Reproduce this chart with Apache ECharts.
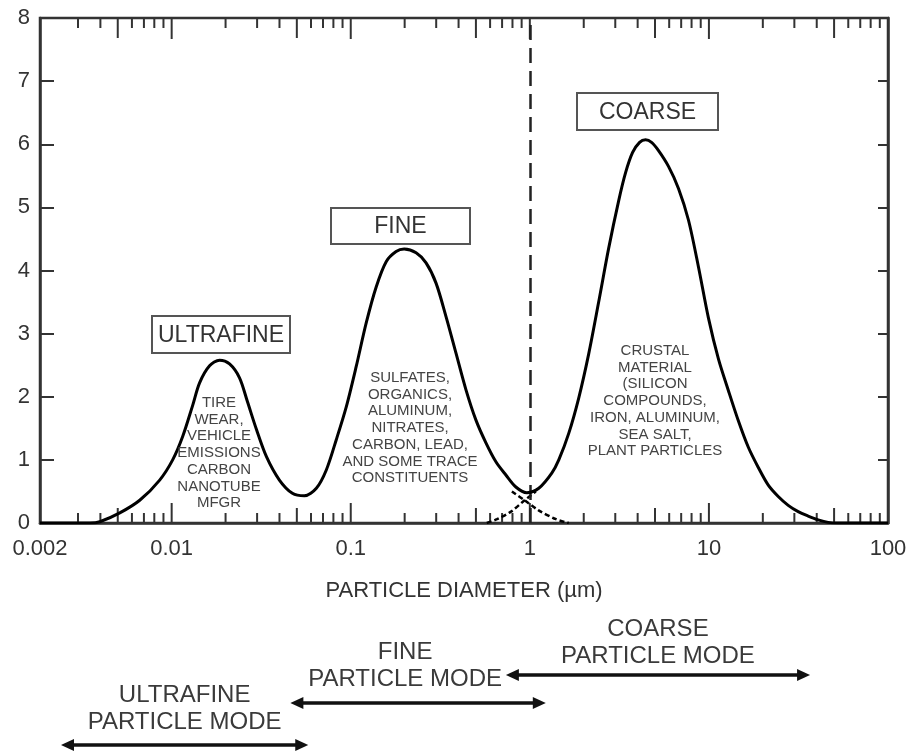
<!DOCTYPE html>
<html><head><meta charset="utf-8">
<script src="https://cdn.jsdelivr.net/npm/echarts@6/dist/echarts.min.js"></script>
<style>html,body{margin:0;padding:0;background:#fff}#c{width:913px;height:754px}</style>
</head><body><div id="c"></div>
<script>
// ---------------- data ----------------
const DIAMETER_UM = [0.00184, 0.00349, 0.003972, 0.005133, 0.006633, 0.008572, 0.01013, 0.01152, 0.01309, 0.01432, 0.01628, 0.01851, 0.02105, 0.02393, 0.02651, 0.02976, 0.03383, 0.03996, 0.04722, 0.05507, 0.06425, 0.07304, 0.08303, 0.09440, 0.1073, 0.1220, 0.1387, 0.1577, 0.1792, 0.1987, 0.2317, 0.2634, 0.2994, 0.3404, 0.3870, 0.4400, 0.5002, 0.5687, 0.6465, 0.7350, 0.8356, 0.9623, 1.122, 1.326, 1.451, 1.649, 1.875, 2.132, 2.423, 2.755, 3.131, 3.425, 3.749, 4.101, 4.429, 4.782, 5.232, 5.947, 6.761, 7.686, 8.738, 9.936, 11.30, 12.84, 14.60, 16.60, 18.87, 21.45, 24.38, 27.72, 31.51, 35.82, 40.74, 46.30, 52.65, 100];
const CONCENTRATION = [0, 0, 0.02, 0.16, 0.36, 0.68, 1.00, 1.37, 1.86, 2.22, 2.49, 2.58, 2.52, 2.30, 1.92, 1.48, 1.05, 0.68, 0.47, 0.43, 0.55, 0.84, 1.32, 1.84, 2.48, 3.17, 3.74, 4.14, 4.30, 4.34, 4.28, 4.12, 3.80, 3.27, 2.69, 2.11, 1.63, 1.27, 0.97, 0.76, 0.57, 0.48, 0.55, 0.79, 1.00, 1.42, 1.98, 2.68, 3.50, 4.35, 5.10, 5.55, 5.87, 6.03, 6.07, 6.03, 5.90, 5.65, 5.30, 4.80, 4.06, 3.25, 2.60, 2.10, 1.62, 1.20, 0.88, 0.60, 0.42, 0.28, 0.18, 0.11, 0.05, 0.01, 0, 0];
const FINE_TAIL_X = [0.794, 0.935, 1.12, 1.40, 1.65];
const FINE_TAIL_Y = [0.50, 0.36, 0.20, 0.06, 0.0];
const COARSE_TAIL_X = [0.575, 0.655, 0.784, 0.935, 1.08];
const COARSE_TAIL_Y = [0.0, 0.06, 0.18, 0.36, 0.50];
const X_LABEL_VALUES = [0.00184, 0.01, 0.1, 1, 10, 100];
const X_LABEL_TEXTS = ['0.002', '0.01', '0.1', '1', '10', '100'];
const X_MIN = 0.00184, X_MAX = 100, Y_MIN = 0, Y_MAX = 8;
const FINE_COARSE_CUT = 1;
const PEAK_NAMES = ['ULTRAFINE', 'FINE', 'COARSE'];
const PEAK_SOURCES = [
  'TIRE\nWEAR,\nVEHICLE\nEMISSIONS\nCARBON\nNANOTUBE\nMFGR',
  'SULFATES,\nORGANICS,\nALUMINUM,\nNITRATES,\nCARBON, LEAD,\nAND SOME TRACE\nCONSTITUENTS',
  'CRUSTAL\nMATERIAL\n(SILICON\nCOMPOUNDS,\nIRON, ALUMINUM,\nSEA SALT,\nPLANT PARTICLES'
];
const MODE_NAMES = ['ULTRAFINE\nPARTICLE MODE', 'FINE\nPARTICLE MODE', 'COARSE\nPARTICLE MODE'];
const MODE_FROM = [0.00241, 0.046, 0.735];
const MODE_TO = [0.0579, 1.228, 36.7];

// -------------- layout / style --------------
const FONT = '"Liberation Sans", Arial, sans-serif';
const BOX_LAYOUT = [ {x: 152, y: 316, w: 138, h: 37}, {x: 331, y: 208, w: 139, h: 36}, {x: 577, y: 93, w: 141, h: 37} ];
const SOURCE_CENTER = [ {x: 219, y: 453}, {x: 410, y: 428}, {x: 655, y: 401} ];
const ARROW_ROW_Y = [745, 703, 675];
const MODE_LABEL_DY = [-36, -37, -32];
const MODE_LABEL_DX = [0, -13, 0];

const curve = DIAMETER_UM.map((d, i) => [d, CONCENTRATION[i]]);
const fineTail = FINE_TAIL_X.map((d, i) => [d, FINE_TAIL_Y[i]]);
const coarseTail = COARSE_TAIL_X.map((d, i) => [d, COARSE_TAIL_Y[i]]);

// log-axis tick marks: 2..9 per decade (5 medium), decades long
const tickData = [];
for (let e = -3; e <= 1; e++) {
  for (let m = 1; m <= 9; m++) {
    const v = +(m * Math.pow(10, e)).toPrecision(6);
    if (v <= 0.0025 || v >= X_MAX) continue;
    tickData.push([v, m === 1 ? 2 : (m === 5 ? 1 : 0)]);
  }
}

function renderTick(params, api) {
  const v = api.value(0), kind = api.value(1);
  const b = api.coord([v, Y_MIN]), t = api.coord([v, Y_MAX]);
  const lb = [10, 15, 20][kind], lt = [10, 20, 21][kind];
  const st = { stroke: '#333', lineWidth: 2 };
  return { type: 'group', children: [
    { type: 'line', shape: { x1: b[0], y1: b[1], x2: b[0], y2: b[1] - lb }, style: st },
    { type: 'line', shape: { x1: t[0], y1: t[1], x2: t[0], y2: t[1] + lt }, style: st }
  ]};
}

function renderMode(params, api) {
  const i = params.dataIndex;
  const x1 = api.coord([api.value(0), Y_MIN])[0];
  const x2 = api.coord([api.value(1), Y_MIN])[0];
  const y = ARROW_ROW_Y[i];
  const h = 6, w = 13;
  return { type: 'group', children: [
    { type: 'line', shape: { x1: x1 + w - 3, y1: y, x2: x2 - w + 3, y2: y }, style: { stroke: '#111', lineWidth: 3.5 } },
    { type: 'polygon', shape: { points: [[x1, y], [x1 + w, y - h], [x1 + w, y + h]] }, style: { fill: '#111' } },
    { type: 'polygon', shape: { points: [[x2, y], [x2 - w, y - h], [x2 - w, y + h]] }, style: { fill: '#111' } },
    { type: 'text', style: { text: MODE_NAMES[i], x: (x1 + x2) / 2 + MODE_LABEL_DX[i], y: y + MODE_LABEL_DY[i],
        align: 'center', verticalAlign: 'middle', font: '24px ' + FONT, fill: '#3a3a3a', lineHeight: 27 } }
  ]};
}

const graphics = [];
PEAK_NAMES.forEach((name, i) => {
  const b = BOX_LAYOUT[i];
  graphics.push({ type: 'rect', shape: { x: b.x, y: b.y, width: b.w, height: b.h }, style: { fill: '#fff', stroke: '#555', lineWidth: 2 }, z: 10 });
  graphics.push({ type: 'text', x: b.x + b.w / 2, y: b.y + b.h / 2 + 1, style: { text: name, align: 'center', verticalAlign: 'middle', font: '23px ' + FONT, fill: '#333' }, z: 11 });
  const s = SOURCE_CENTER[i];
  graphics.push({ type: 'text', x: s.x, y: s.y, style: { text: PEAK_SOURCES[i], align: 'center', verticalAlign: 'middle', font: '15px ' + FONT, fill: '#444', lineHeight: 16.7 }, z: 11 });
});

const chart = echarts.init(document.getElementById('c'), null, { renderer: 'canvas' });
chart.setOption({
  animation: false,
  backgroundColor: '#fff',
  grid: { left: 40, right: 25, top: 18, bottom: 231, show: true, borderColor: '#333', borderWidth: 2.5, backgroundColor: 'transparent' },
  xAxis: {
    type: 'log', logBase: 10, min: X_MIN, max: X_MAX,
    name: 'PARTICLE DIAMETER (µm)', nameLocation: 'middle', nameGap: 57,
    nameTextStyle: { fontSize: 22, color: '#333', fontFamily: FONT },
    axisLine: { show: true, lineStyle: { color: '#333', width: 2.5 } },
    axisTick: { show: false },
    minorTick: { show: false },
    splitLine: { show: false },
    axisLabel: {
      customValues: X_LABEL_VALUES, showMinLabel: true, showMaxLabel: true,
      fontSize: 22, color: '#333', fontFamily: FONT, margin: 15,
      formatter: v => { let best = 0; X_LABEL_VALUES.forEach((x, k) => { if (Math.abs(Math.log10(x) - Math.log10(v)) < Math.abs(Math.log10(X_LABEL_VALUES[best]) - Math.log10(v))) best = k; }); return X_LABEL_TEXTS[best]; }
    }
  },
  yAxis: [{
    type: 'value', min: Y_MIN, max: Y_MAX, interval: 1,
    axisLine: { show: true, lineStyle: { color: '#333', width: 2.5 } },
    axisTick: { show: true, inside: true, length: 14, lineStyle: { color: '#333', width: 2 } },
    splitLine: { show: false },
    axisLabel: { fontSize: 22, color: '#333', fontFamily: FONT, margin: 10 }
  }, {
    type: 'value', position: 'right', min: Y_MIN, max: Y_MAX, interval: 1,
    axisLine: { show: true, lineStyle: { color: '#333', width: 2.5 } },
    axisTick: { show: true, inside: true, length: 10, lineStyle: { color: '#333', width: 2 } },
    splitLine: { show: false }, axisLabel: { show: false }
  }],
  series: [
    { type: 'custom', name: 'ticks', renderItem: renderTick, data: tickData, clip: false, silent: true, z: 3 },
    { type: 'line', name: 'total', data: curve, showSymbol: false, smooth: 0.3,
      lineStyle: { color: '#000', width: 3 }, z: 5,
      markLine: { silent: true, symbol: 'none', label: { show: false },
        lineStyle: { color: '#222', width: 2.5, type: [15, 8] },
        data: [{ xAxis: FINE_COARSE_CUT }] } },
    { type: 'line', name: 'fine tail', data: fineTail, showSymbol: false, smooth: 0.3,
      lineStyle: { color: '#000', width: 2.5, type: [5, 3] }, z: 4 },
    { type: 'line', name: 'coarse tail', data: coarseTail, showSymbol: false, smooth: 0.3,
      lineStyle: { color: '#000', width: 2.5, type: [5, 3] }, z: 4 },
    { type: 'custom', name: 'modes', renderItem: renderMode, clip: false, silent: true,
      encode: { x: [0, 1], y: 2 },
      data: MODE_FROM.map((f, i) => [f, MODE_TO[i], 0]) }
  ],
  graphic: graphics
});
</script></body></html>
